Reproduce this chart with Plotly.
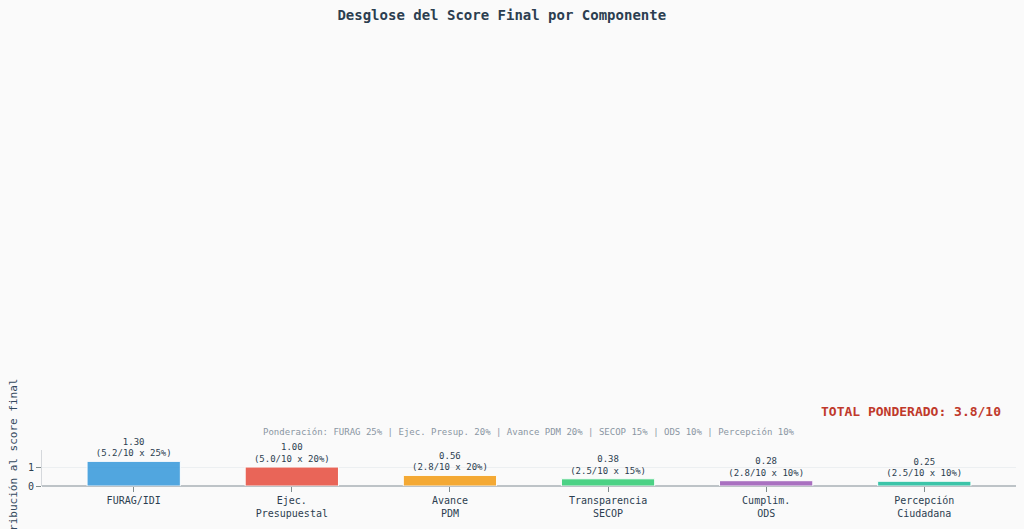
import plotly.graph_objects as go

# Componentes del score
componentes = ["FURAG/IDI", "Ejec.<br>Presupuestal", "Avance<br>PDM",
               "Transparencia<br>SECOP", "Cumplim.<br>ODS", "Percepción<br>Ciudadana"]
puntajes = [5.2, 5.0, 2.8, 2.5, 2.8, 2.5]
pesos = [25, 20, 20, 15, 10, 10]
contribuciones = [1.30, 1.00, 0.56, 0.38, 0.28, 0.25]
colores = ["#3498db", "#e74c3c", "#f39c12", "#2ecc71", "#9b59b6", "#1abc9c"]
total = 3.8

etiquetas = [f"{c:.2f}<br>({p:.1f}/10 x {w}%)" for c, p, w in zip(contribuciones, puntajes, pesos)]

FONT = "DejaVu Sans Mono"
BG = "#fafafa"

fig = go.Figure()
fig.add_trace(go.Bar(
    x=componentes,
    y=contribuciones,
    width=0.59,
    marker=dict(color=colores, opacity=0.85, line=dict(color="white", width=1)),
    text=etiquetas,
    textposition="outside",
    textfont=dict(family=FONT, size=9, color="#2c3e50"),
    cliponaxis=False,
))

fig.add_annotation(
    text="Ponderación: FURAG 25% | Ejec. Presup. 20% | Avance PDM 20% | SECOP 15% | ODS 10% | Percepción 10%",
    xref="paper", yref="paper", x=0.5, y=1, xanchor="center", yanchor="bottom", yshift=11,
    showarrow=False, font=dict(family=FONT, size=9, color="#8a96a3"),
)
fig.add_annotation(
    text=f"<b>TOTAL PONDERADO: {total}/10</b>",
    xref="paper", yref="paper", x=1, y=1, xanchor="right", yanchor="bottom", xshift=-13, yshift=29,
    showarrow=False, font=dict(family=FONT, size=13, color="#c0392b"),
)

fig.update_layout(
    title=dict(text="<b>Desglose del Score Final por Componente</b>", x=0.49, xanchor="center",
               y=0.972, yanchor="middle",
               font=dict(family=FONT, size=14, color="#2c3e50")),
    width=1024, height=529,
    margin=dict(l=42, r=8, t=450, b=43),
    paper_bgcolor=BG,
    plot_bgcolor=BG,
    showlegend=False,
    font=dict(family=FONT, size=10, color="#2c3e50"),
)
fig.update_xaxes(
    automargin=False,
    range=[-0.58, 5.58],
    tickfont=dict(family=FONT, size=10, color="#2c3e50"),
    ticks="outside", tickcolor="#7f8c8d", ticklen=5,
    showgrid=False, showline=False,
)
fig.update_yaxes(
    automargin=False,
    title=dict(text="Contribución al score final", standoff=8,
               font=dict(family=FONT, size=11, color="#34495e")),
    range=[0, 1.9], dtick=1,
    tickfont=dict(family=FONT, size=10, color="#2c3e50"),
    ticks="outside", tickcolor="#7f8c8d", ticklen=5,
    showgrid=True, gridcolor="#eceff1",
    showline=True, linecolor="#d5d8dc", linewidth=1,
    zeroline=True, zerolinecolor="#bdc3c7", zerolinewidth=2,
)

# sin margen del body para que la figura ocupe la ventana
fig.write_html("out.html", config={"displayModeBar": False},
               post_script="document.body.style.margin='0';document.body.style.background='%s';" % BG)
